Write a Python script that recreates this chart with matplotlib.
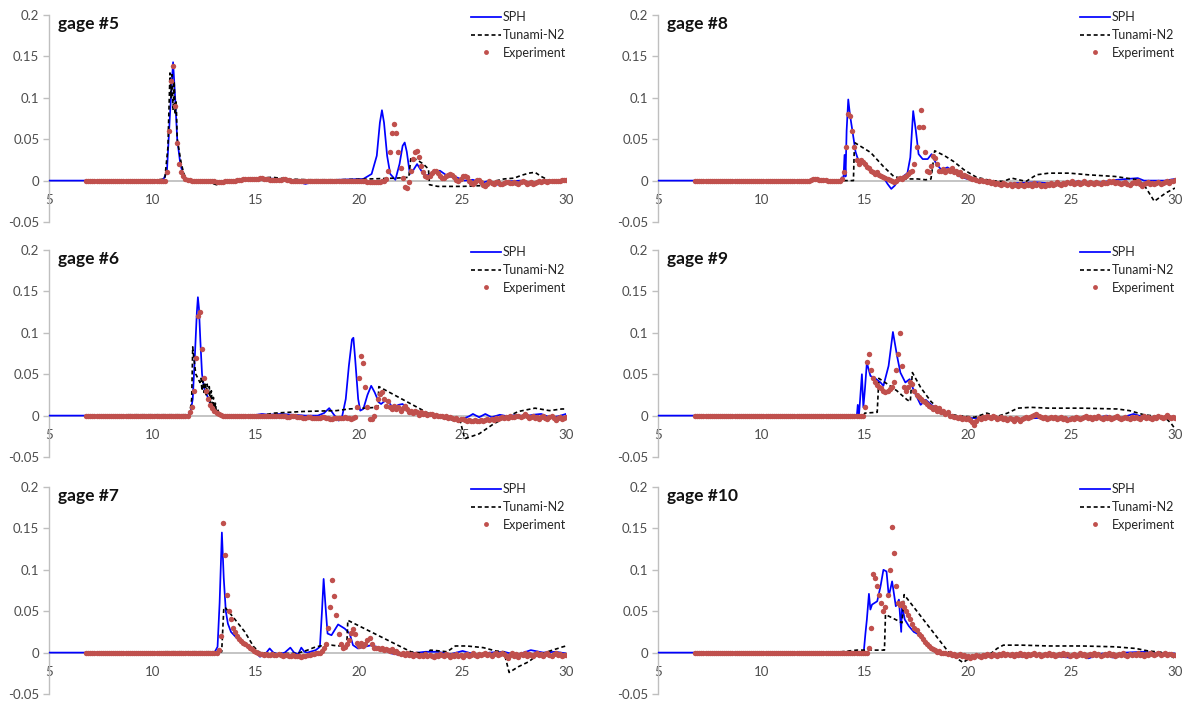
import numpy as np
import matplotlib
matplotlib.use("Agg")
import matplotlib.pyplot as plt

plt.rcParams['font.family'] = ['Lato', 'DejaVu Sans']

# ---------------- data ----------------
titles = ['gage #5', 'gage #6', 'gage #7', 'gage #8', 'gage #9', 'gage #10']
series_names = ['SPH', 'Tunami-N2', 'Experiment']
x_ticks = [5, 10, 15, 20, 25, 30]
y_ticks = [-0.05, 0, 0.05, 0.1, 0.15, 0.2]
y_tick_labels = ['-0.05', '0', '0.05', '0.1', '0.15', '0.2']

# experiment sampled every 0.1 s from 6.8 s to 30.0 s
exp_t = np.round(np.arange(68, 301) / 10.0, 1)

# ---- gage 5 ----
sph5 = [(5, 0), (10.5, 0), (10.7, 0.01), (10.85, 0.08), (11.0, 0.143), (11.1, 0.1), (11.2, 0.05),
        (11.35, 0.02), (11.5, 0.006), (11.7, 0), (13.2, -0.003), (14.0, 0), (15.3, 0.003), (16.0, 0.002),
        (16.8, 0.0), (17.4, -0.004), (18, 0), (19, 0.001), (20.2, 0.002), (20.6, 0.008), (20.85, 0.03),
        (21.0, 0.07), (21.1, 0.085), (21.2, 0.07), (21.35, 0.03), (21.5, 0.008), (21.75, 0.001),
        (21.95, 0.02), (22.1, 0.042), (22.2, 0.046), (22.3, 0.035), (22.45, 0.008), (22.6, 0.012),
        (22.8, 0.02), (23.0, 0.012), (23.2, 0.006), (23.5, 0.008), (23.9, 0.012), (24.3, 0.005),
        (24.7, 0.004), (25.1, 0.0), (25.5, 0.001), (25.9, -0.003), (26.3, 0.0), (26.7, -0.005),
        (27.2, -0.001), (27.8, 0.0), (28.4, -0.003), (29.0, 0.0), (29.5, -0.002), (30, 0.0)]
tun5 = [(10.0, 0), (10.6, 0.002), (10.75, 0.04), (10.85, 0.13), (10.9, 0.1), (10.95, 0.128), (11.0, 0.085),
        (11.05, 0.12), (11.1, 0.08), (11.15, 0.095), (11.2, 0.05), (11.3, 0.035), (11.4, 0.02),
        (11.55, 0.006), (11.8, 0.0), (12.6, -0.001), (13.1, -0.005), (13.4, -0.002), (14.2, 0.001),
        (15.2, 0.003), (15.8, 0.004), (16.5, 0.002), (17.5, 0.001), (19, 0.001), (20.5, 0.002),
        (21.8, 0.003), (22.4, 0.004), (22.5, 0.028), (22.8, 0.025), (23.1, 0.02), (23.35, 0.014),
        (23.4, -0.005), (23.8, -0.007), (25, -0.007), (26.0, -0.006), (26.5, -0.001), (27.0, 0.002),
        (27.5, 0.003), (27.8, 0.006), (28.2, 0.009), (28.5, 0.01), (28.8, 0.005), (29.2, 0.0), (30, 0.0)]
exp5 = [0.0] * 39 + [
    0.01, 0.06, 0.12,
    0.138, 0.09, 0.045, 0.02, 0.01, 0.005, 0.002, 0.001, 0.001, 0.0,
    0.0, 0.0, 0.0, 0.0, 0.0, 0.0, 0.0, 0.0, 0.0, -0.001,
    -0.001, -0.002, -0.002, -0.002, -0.002, -0.001, -0.001, 0.0, 0.0, 0.0,
    0.0, 0.001, 0.001, 0.001, 0.002, 0.002, 0.002, 0.002, 0.002, 0.002,
    0.002, 0.002, 0.003, 0.003, 0.002, 0.002, 0.002, 0.001, 0.001, 0.001,
    0.001, 0.001, 0.001, 0.002, 0.002, 0.001, 0.001, 0.0, 0.0, 0.0,
    0.0, 0.0, -0.001, -0.001, -0.001, 0.0, 0.0, 0.0, -0.001, -0.001,
    -0.001, -0.001, 0.0, 0.0, -0.001, -0.001, -0.001, -0.001, -0.001, -0.001,
    -0.001, -0.001, -0.001, -0.001, -0.001, -0.001, -0.001, -0.001, -0.001, -0.001,
    -0.001, -0.001, -0.001, -0.001, -0.002, -0.002, -0.002, -0.002, -0.002, -0.002,
    -0.002, -0.001, 0.0, 0.002, 0.012, 0.035, 0.058, 0.068, 0.058, 0.035,
    0.015, 0.003, -0.008, -0.009, -0.002, 0.012, 0.026, 0.034, 0.036, 0.028,
    0.018, 0.01, 0.005, 0.004, 0.006, 0.009, 0.011, 0.011, 0.009, 0.006,
    0.003, 0.003, 0.005, 0.007, 0.008, 0.007, 0.004, 0.001, 0.0, 0.002,
    0.005, 0.006, 0.004, 0.0, -0.003, -0.004, -0.002, 0.001, 0.001, -0.002,
    -0.005, -0.006, -0.004, -0.001, -0.003, -0.004, -0.002, -0.002, -0.004, -0.004,
    -0.003, -0.002, -0.002, -0.003, -0.003, -0.002, -0.003, -0.004, -0.002, -0.001,
    -0.002, -0.004, -0.003, -0.002, -0.004, -0.003, -0.002, -0.001, -0.002, -0.001,
    -0.001, -0.002, -0.001, -0.001, 0.0, -0.001, 0.0, 0.0, 0.001, 0.001,
    0.001]

# ---- gage 6 ----
sph6 = [(5, 0), (11.7, 0), (11.85, 0.005), (11.95, 0.02), (12.05, 0.07), (12.15, 0.125), (12.2, 0.143),
        (12.25, 0.13), (12.32, 0.09), (12.4, 0.05), (12.5, 0.033), (12.6, 0.028), (12.7, 0.02),
        (12.85, 0.012), (13.0, 0.007), (13.2, 0.003), (13.5, 0.0), (14, -0.001), (14.8, 0.0),
        (15.3, 0.002), (15.6, 0.001), (16.2, 0.002), (16.8, 0.001), (17.4, 0.0), (18.0, 0.0),
        (18.3, 0.003), (18.55, 0.009), (18.75, 0.002), (19.0, -0.006), (19.15, -0.004), (19.35, 0.02),
        (19.5, 0.06), (19.65, 0.092), (19.72, 0.094), (19.8, 0.07), (19.95, 0.02), (20.05, 0.006),
        (20.2, 0.008), (20.4, 0.025), (20.58, 0.036), (20.75, 0.028), (20.95, 0.016), (21.06, 0.014),
        (21.2, 0.017), (21.38, 0.018), (21.55, 0.012), (21.7, 0.01), (21.9, 0.013), (22.1, 0.014),
        (22.3, 0.008), (22.5, 0.004), (22.8, 0.003), (23.1, 0.002), (23.6, 0.0), (24.0, -0.002),
        (24.5, -0.005), (25.0, -0.004), (25.3, -0.001), (25.5, 0.002), (25.8, -0.002), (26.1, 0.002),
        (26.4, -0.002), (26.8, 0.001), (27.2, -0.001), (27.6, 0.001), (28.0, -0.001), (28.4, 0.001),
        (28.8, 0.002), (29.2, -0.002), (29.6, -0.001), (30, 0.002)]
tun6 = [(8.8, 0.001), (11.8, 0.001), (11.9, 0.02), (11.95, 0.083), (12.0, 0.07), (12.1, 0.05),
        (12.2, 0.045), (12.3, 0.04), (12.35, 0.045), (12.4, 0.03), (12.45, 0.043), (12.5, 0.028),
        (12.55, 0.04), (12.6, 0.025), (12.65, 0.038), (12.7, 0.02), (12.75, 0.035), (12.8, 0.015),
        (12.85, 0.03), (12.9, 0.01), (12.95, 0.022), (13.0, 0.005), (13.05, 0.015), (13.1, 0.002),
        (13.15, 0.008), (13.25, 0.0), (13.5, -0.003), (13.8, -0.003), (14.2, 0.0), (15.4, 0.001),
        (15.9, 0.003), (17.3, 0.005), (18.9, 0.006), (19.5, 0.008), (20.9, 0.01), (20.95, 0.035),
        (23.55, 0.0), (24.9, -0.008), (25.1, -0.028), (25.8, -0.022), (26.5, -0.01), (27.1, -0.002),
        (27.7, 0.005), (28.5, 0.009), (29.2, 0.006), (29.8, 0.008), (30, 0.008)]
exp6 = [0.0] * 50 + [
    0.004, 0.01,
    0.03, 0.07, 0.12, 0.125, 0.08, 0.045, 0.03, 0.02, 0.013, 0.009,
    0.005, 0.003, 0.002, 0.001, 0.0, 0.0, 0.0, 0.0, 0.0, 0.0,
    0.0, 0.0, -0.001, -0.001, -0.001, -0.001, -0.001, -0.001, -0.001, -0.001,
    -0.001, -0.001, 0.0, 0.0, 0.0, 0.0, -0.001, -0.001, -0.001, -0.001,
    -0.001, -0.001, -0.001, -0.001, -0.001, -0.002, -0.002, -0.001, -0.001, -0.001,
    -0.002, -0.002, -0.002, -0.003, -0.003, -0.002, -0.002, -0.003, -0.003, -0.003,
    -0.003, -0.003, -0.002, -0.002, -0.003, -0.003, -0.004, -0.004, -0.003, -0.003,
    -0.003, -0.003, -0.003, -0.002, -0.003, -0.003, -0.004, -0.003, -0.002, 0.01,
    0.045, 0.072, 0.063, 0.035, 0.01, -0.004, -0.004, 0.0, 0.01, 0.02,
    0.026, 0.028, 0.02, 0.012, 0.018, 0.01, 0.008, 0.012, 0.008, 0.01,
    0.006, 0.009, 0.012, 0.008, 0.004, 0.005, 0.003, 0.006, 0.004, 0.001,
    0.004, 0.002, 0.003, 0.001, 0.002, 0.002, 0.0, 0.001, 0.0, -0.001,
    0.0, -0.002, -0.001, -0.003, -0.002, -0.003, -0.004, -0.003, -0.005, -0.004,
    -0.004, -0.005, -0.006, -0.005, -0.006, -0.006, -0.005, -0.007, -0.006, -0.005,
    -0.006, -0.005, -0.004, -0.005, -0.004, -0.005, -0.003, -0.004, -0.003, -0.002,
    -0.003, -0.002, -0.003, -0.001, -0.002, -0.002, -0.001, 0.0, -0.002, 0.0,
    0.002, -0.001, -0.003, -0.002, -0.001, -0.003, -0.002, -0.004, -0.002, -0.001,
    -0.003, -0.004, -0.002, -0.001, -0.003, -0.005, -0.003, -0.002, -0.004, -0.003,
    -0.002]

# ---- gage 7 ----
sph7 = [(5, 0), (13.0, 0), (13.15, 0.007), (13.25, 0.06), (13.36, 0.145), (13.45, 0.09), (13.55, 0.05),
        (13.65, 0.035), (13.8, 0.025), (14.1, 0.017), (14.4, 0.01), (14.65, 0.006), (15.0, 0.0),
        (15.2, -0.005), (15.45, -0.002), (15.67, 0.005), (15.85, 0.0), (16.1, -0.002), (16.4, 0.0),
        (16.67, 0.006), (16.85, 0.0), (17.05, -0.002), (17.2, 0.006), (17.35, 0.001), (17.5, 0.0),
        (17.9, 0.003), (18.1, 0.007), (18.2, 0.05), (18.28, 0.089), (18.36, 0.06), (18.47, 0.023),
        (18.66, 0.021), (18.98, 0.034), (19.3, 0.029), (19.54, 0.023), (19.7, 0.009), (19.94, 0.005),
        (20.26, 0.007), (20.6, 0.009), (21.07, 0.005), (21.55, -0.001), (22.0, -0.003), (22.5, -0.001),
        (23.2, 0.001), (23.8, 0.001), (24.4, -0.002), (25.0, 0.002), (25.7, -0.003), (26.3, 0.0),
        (27.0, 0.001), (27.6, -0.003), (28.3, 0.003), (28.9, 0.0), (29.5, 0.001), (30, -0.001)]
tun7 = [(10.6, 0.001), (13.35, 0.001), (13.45, 0.052), (13.5, 0.055), (13.9, 0.043), (14.47, 0.025),
        (14.9, 0.007), (15.2, 0.0), (16.0, -0.001), (17.0, -0.001), (17.5, 0.003), (17.8, 0.006),
        (18.1, 0.008), (18.66, 0.009), (18.98, 0.008), (19.4, 0.009), (19.45, 0.039), (22.5, 0.001),
        (23.13, -0.001), (23.45, 0.003), (23.9, 0.002), (24.25, 0.001), (24.65, 0.008), (25.2, 0.008),
        (26.0, 0.006), (26.6, 0.002), (27.0, 0.001), (27.25, -0.024), (27.7, -0.017), (28.2, -0.011),
        (28.5, -0.005), (29.1, 0.001), (29.85, 0.007), (30, 0.008)]
exp7 = [0.0] * 64 + [
    0.003, 0.02, 0.157, 0.118, 0.07, 0.05, 0.04, 0.03,
    0.025, 0.02, 0.017, 0.014, 0.012, 0.01, 0.008, 0.006, 0.004, 0.002,
    0.001, -0.001, -0.002, -0.002, -0.003, -0.002, -0.003, -0.003, -0.002, -0.003,
    -0.003, -0.002, -0.003, -0.004, -0.003, -0.003, -0.004, -0.004, -0.003, -0.004,
    -0.004, -0.004, -0.005, -0.004, -0.004, -0.003, -0.003, -0.002, -0.002, -0.001,
    -0.001, 0.0, 0.002, 0.005, 0.01, 0.03, 0.055, 0.088, 0.068, 0.045,
    0.022, 0.01, 0.006, 0.007, 0.01, 0.015, 0.024, 0.029, 0.022, 0.012,
    0.008, 0.012, 0.008, 0.01, 0.015, 0.018, 0.01, 0.006, 0.005, 0.006,
    0.004, 0.005, 0.003, 0.004, 0.003, 0.002, 0.004, 0.001, 0.002, 0.0,
    -0.002, 0.0, -0.003, -0.001, -0.003, -0.002, -0.004, -0.002, -0.003, -0.004,
    -0.003, -0.004, -0.002, -0.004, -0.003, -0.004, -0.005, -0.003, -0.004, -0.002,
    -0.003, -0.004, -0.002, -0.003, -0.005, -0.003, -0.004, -0.002, -0.004, -0.003,
    -0.005, -0.003, -0.002, -0.004, -0.003, -0.001, -0.003, -0.004, -0.002, -0.003,
    -0.002, 0.0, -0.003, -0.002, -0.004, -0.002, -0.001, -0.003, -0.002, -0.001,
    -0.002, -0.004, -0.006, -0.003, -0.001, -0.004, -0.002, -0.005, -0.002, -0.003,
    -0.001, -0.004, -0.002, -0.003, -0.004, -0.002, -0.001, -0.003, -0.002, -0.004,
    -0.002, -0.001, -0.003, -0.004, -0.002, -0.001, -0.003, -0.002, -0.004, -0.003,
    -0.003]

# ---- gage 8 ----
sph8 = [(5, 0), (13.8, 0), (13.9, 0.004), (13.97, 0.003), (14.02, 0.031), (14.07, 0.005), (14.12, 0.06),
        (14.2, 0.098), (14.28, 0.08), (14.45, 0.052), (14.55, 0.035), (14.64, 0.028), (14.8, 0.019),
        (14.95, 0.023), (15.1, 0.018), (15.28, 0.013), (15.6, 0.007), (15.9, 0.004), (16.1, -0.004),
        (16.28, -0.01), (16.45, -0.006), (16.6, 0.0), (16.8, 0.004), (17.06, 0.009), (17.2, 0.028),
        (17.34, 0.084), (17.47, 0.06), (17.6, 0.032), (17.8, 0.026), (18.04, 0.026), (18.23, 0.032),
        (18.44, 0.021), (18.7, 0.013), (19.0, 0.016), (19.3, 0.011), (19.6, 0.005), (19.95, 0.002),
        (20.4, 0.0), (21.2, -0.004), (21.7, -0.005), (22.3, -0.003), (23.3, -0.002), (24.3, -0.004),
        (25.3, -0.001), (26.2, -0.003), (27.2, 0.001), (28.2, 0.003), (28.5, 0.0), (29.5, 0.0),
        (30, 0.002)]
tun8 = [(12.0, 0.0), (14.45, 0.0), (14.5, 0.046), (15.28, 0.034), (15.9, 0.017), (16.4, 0.005),
        (16.9, 0.002), (17.55, 0.002), (17.95, 0.001), (18.2, 0.002), (18.38, 0.036), (18.86, 0.03),
        (19.3, 0.023), (19.8, 0.013), (20.4, 0.004), (21.1, 0.0), (21.7, -0.001), (22.1, 0.003),
        (22.8, -0.001), (23.3, 0.007), (23.9, 0.009), (24.9, 0.009), (25.8, 0.007), (27.1, 0.005),
        (28.2, 0.001), (28.5, -0.005), (29.0, -0.025), (29.55, -0.015), (30, -0.009)]
exp8 = [0.0] * 56 + [
    0.001, 0.002, 0.002, 0.002, 0.001, 0.001,
    0.001, 0.001, 0.0, 0.0, 0.0, 0.0, 0.0, 0.0, 0.0, 0.002,
    0.01, 0.04, 0.08, 0.078, 0.06, 0.04, 0.025, 0.02, 0.025, 0.022,
    0.02, 0.017, 0.015, 0.012, 0.01, 0.008, 0.01, 0.007, 0.006, 0.004,
    0.003, 0.002, 0.001, -0.001, -0.002, -0.001, 0.002, 0.003, 0.002, 0.004,
    0.006, 0.008, 0.01, 0.012, 0.02, 0.04, 0.065, 0.085, 0.065, 0.035,
    0.012, 0.01, 0.018, 0.03, 0.027, 0.02, 0.012, 0.012, 0.014, 0.01,
    0.013, 0.011, 0.015, 0.01, 0.011, 0.008, 0.01, 0.006, 0.007, 0.005,
    0.004, 0.003, 0.002, 0.002, 0.001, 0.0, 0.001, -0.001, 0.0, -0.002,
    -0.001, -0.003, -0.002, -0.004, -0.003, -0.004, -0.005, -0.003, -0.004, -0.005,
    -0.004, -0.006, -0.004, -0.005, -0.006, -0.004, -0.005, -0.006, -0.004, -0.005,
    -0.004, -0.006, -0.003, -0.005, -0.004, -0.006, -0.005, -0.007, -0.004, -0.005,
    -0.003, -0.005, -0.004, -0.002, -0.004, -0.005, -0.003, -0.004, -0.002, -0.003,
    -0.001, -0.004, -0.003, -0.002, -0.004, -0.003, -0.001, -0.003, -0.004, -0.002,
    -0.003, -0.004, -0.002, -0.003, -0.004, -0.002, -0.003, -0.003, -0.001, -0.002,
    -0.001, -0.003, -0.002, -0.003, -0.004, -0.003, -0.002, -0.004, -0.005, -0.003,
    -0.002, -0.003, -0.001, -0.004, -0.006, -0.004, -0.003, -0.002, -0.004, -0.003,
    -0.004, -0.003, -0.002, -0.004, -0.003, -0.002, -0.001, -0.003, -0.001, 0.0,
    0.001]

# ---- gage 9 ----
sph9 = [(5, 0), (14.55, 0), (14.62, 0.001), (14.66, 0.013), (14.72, 0.001), (14.86, 0.05), (14.93, 0.01),
        (15.0, 0.03), (15.1, 0.064), (15.27, 0.048), (15.5, 0.045), (15.76, 0.04), (15.9, 0.036),
        (16.15, 0.06), (16.36, 0.101), (16.56, 0.072), (16.72, 0.052), (16.96, 0.04), (17.17, 0.044),
        (17.37, 0.03), (17.7, 0.013), (17.95, 0.019), (18.27, 0.012), (18.6, 0.007), (19.0, 0.003),
        (19.5, -0.003), (20.1, -0.003), (21.1, -0.003), (22.4, -0.004), (23.3, -0.003), (24.3, -0.004),
        (25.3, -0.003), (26.2, -0.003), (26.7, 0.0), (27.2, -0.004), (28.0, 0.002), (28.5, -0.002),
        (29.5, -0.002), (30, -0.001)]
tun9 = [(12.0, 0.0), (14.95, 0.0), (15.0, 0.003), (15.6, 0.004), (15.68, 0.045), (16.1, 0.038),
        (16.55, 0.03), (17.05, 0.019), (17.2, 0.017), (17.3, 0.052), (17.7, 0.034), (18.2, 0.017),
        (18.8, 0.003), (19.5, 0.0), (20.3, -0.002), (20.9, 0.003), (21.4, -0.001), (21.9, 0.003),
        (22.4, 0.009), (23.0, 0.01), (23.9, 0.009), (25.5, 0.009), (27.2, 0.008), (27.8, 0.006),
        (28.5, 0.001), (29.5, -0.002), (29.8, -0.009), (30, -0.016)]
exp9 = [0.0] * 82 + [
    0.01, 0.065, 0.075, 0.055, 0.045, 0.04, 0.037, 0.035, 0.033, 0.03,
    0.028, 0.03, 0.032, 0.035, 0.04, 0.055, 0.075, 0.1, 0.06, 0.035,
    0.03, 0.035, 0.04, 0.038, 0.03, 0.025, 0.022, 0.02, 0.018, 0.016,
    0.014, 0.012, 0.01, 0.008, 0.01, 0.006, 0.009, 0.004, 0.006, 0.002,
    0.004, 0.0, -0.001, -0.002, -0.002, -0.003, -0.002, -0.004, -0.003, -0.004,
    -0.003, -0.005, -0.008, -0.011, -0.006, -0.003, -0.004, -0.002, -0.003, -0.001,
    -0.002, -0.003, -0.001, -0.002, -0.004, -0.003, -0.002, -0.004, -0.003, -0.005,
    -0.003, -0.004, -0.006, -0.003, -0.004, -0.007, -0.004, -0.003, -0.002, -0.003,
    -0.002, -0.001, 0.001, 0.002, 0.0, -0.002, -0.003, -0.002, -0.004, -0.003,
    -0.002, -0.003, -0.002, -0.004, -0.003, -0.002, -0.004, -0.003, -0.005, -0.004,
    -0.003, -0.004, -0.002, -0.003, -0.004, -0.003, -0.002, -0.001, -0.003, -0.002,
    -0.004, -0.002, -0.003, -0.001, -0.003, -0.004, -0.002, -0.003, -0.002, -0.004,
    -0.003, -0.002, -0.001, -0.003, -0.004, -0.003, -0.002, -0.003, -0.004, -0.002,
    -0.003, -0.002, -0.003, -0.004, -0.002, -0.001, -0.003, -0.002, -0.003, -0.004,
    -0.002, -0.003, -0.001, -0.002, -0.003, -0.002, 0.001, -0.002, -0.003, -0.002,
    -0.003]

# ---- gage 10 ----
sph10 = [(5, 0), (14.8, 0), (14.95, 0.001), (15.03, 0.023), (15.1, 0.04), (15.2, 0.071), (15.27, 0.052),
         (15.35, 0.058), (15.6, 0.062), (15.76, 0.08), (15.9, 0.1), (16.05, 0.098), (16.16, 0.068),
         (16.32, 0.086), (16.5, 0.056), (16.65, 0.064), (16.76, 0.025), (16.8, 0.058), (16.93, 0.04),
         (17.13, 0.032), (17.37, 0.025), (17.6, 0.022), (17.86, 0.013), (18.18, 0.005), (18.5, -0.001),
         (19.0, -0.003), (19.6, -0.004), (20.4, -0.005), (21.1, -0.003), (21.7, -0.003), (22.6, -0.005),
         (23.3, -0.003), (24.1, -0.004), (24.9, -0.006), (25.4, -0.001), (25.8, -0.007), (26.5, -0.001),
         (27.0, -0.006), (27.6, 0.0), (28.5, 0.001), (29.2, -0.001), (30, -0.001)]
tun10 = [(13.5, 0.0), (14.6, 0.003), (15.95, 0.003), (16.0, 0.046), (16.8, 0.036), (16.9, 0.07),
         (19.1, -0.001), (19.75, -0.012), (20.3, -0.003), (21.1, -0.001), (21.4, 0.005), (21.7, 0.009),
         (22.6, 0.009), (23.9, 0.008), (25.5, 0.008), (27.1, 0.007), (28.1, 0.005), (28.7, 0.002),
         (29.5, 0.0), (30, -0.007)]
exp10 = [0.0] * 84 + [
    0.005, 0.03, 0.095, 0.09, 0.08, 0.07, 0.06, 0.05,
    0.055, 0.07, 0.1, 0.152, 0.12, 0.08, 0.06, 0.058, 0.06, 0.055,
    0.05, 0.045, 0.04, 0.035, 0.03, 0.027, 0.022, 0.02, 0.016, 0.013,
    0.01, 0.008, 0.006, 0.004, 0.003, 0.001, 0.002, 0.0, -0.001, 0.0,
    -0.002, -0.001, -0.003, -0.002, -0.004, -0.003, -0.002, -0.004, -0.003, -0.005,
    -0.004, -0.006, -0.004, -0.005, -0.003, -0.004, -0.005, -0.003, -0.004, -0.002,
    -0.003, -0.004, -0.002, -0.003, -0.004, -0.002, -0.003, -0.001, -0.003, -0.002,
    -0.003, -0.002, -0.004, -0.002, -0.003, -0.001, -0.003, -0.002, -0.004, -0.002,
    -0.003, -0.002, -0.001, -0.003, -0.002, -0.004, -0.003, -0.002, -0.003, -0.001,
    -0.003, -0.002, -0.004, -0.003, -0.002, -0.003, -0.001, -0.003, -0.002, -0.004,
    -0.003, -0.002, -0.004, -0.003, -0.001, -0.003, -0.002, -0.004, -0.003, -0.002,
    -0.003, -0.001, -0.003, -0.002, -0.004, -0.003, -0.002, -0.003, -0.001, -0.003,
    -0.002, -0.004, -0.003, -0.002, -0.003, -0.001, -0.003, -0.004, -0.002, -0.003,
    -0.002, -0.003, -0.001, -0.003, -0.002, -0.004, -0.002, -0.003, -0.001, -0.002,
    -0.003, -0.002, -0.001, -0.003, -0.002, -0.001, -0.003, -0.002, -0.002, -0.003,
    -0.003]

# ---------------- figure ----------------
W, H = 1182, 701
fig = plt.figure(figsize=(W / 100, H / 100), dpi=100)

col_x = [49, 658]
axis_w = 517
row_top = [15, 250, 487]
axis_h = 207

panels = [
    (titles[0], sph5, tun5, exp5, 0, 0),
    (titles[1], sph6, tun6, exp6, 0, 1),
    (titles[2], sph7, tun7, exp7, 0, 2),
    (titles[3], sph8, tun8, exp8, 1, 0),
    (titles[4], sph9, tun9, exp9, 1, 1),
    (titles[5], sph10, tun10, exp10, 1, 2),
]

grey = '#BFBFBF'
txt = '#4D4D4D'

for title, sph, tun, exp, c, r in panels:
    left = col_x[c] / W
    bottom = 1 - (row_top[r] + axis_h) / H
    ax = fig.add_axes([left, bottom, axis_w / W, axis_h / H])
    st, sy = zip(*sph)
    tt, ty = zip(*tun)
    ax.plot(st, sy, color='#0000FF', lw=1.25, label=series_names[0], zorder=3)
    ax.plot(tt, ty, color='black', lw=1.2, ls=(0, (2.4, 1.7)), label=series_names[1], zorder=3)
    n = min(len(exp), len(exp_t))
    ax.plot(exp_t[:n], exp[:n], ls='none', marker='o', ms=3.9, color='#C0504D', mec='none',
            label=series_names[2], zorder=4)

    ax.set_xlim(5, 30)
    ax.set_ylim(-0.05, 0.2)
    ax.set_xticks(x_ticks)
    ax.set_xticklabels([str(v) for v in x_ticks])
    ax.set_yticks(y_ticks)
    ax.set_yticklabels(y_tick_labels)

    for s in ('top', 'right'):
        ax.spines[s].set_visible(False)
    ax.spines['bottom'].set_position(('data', 0))
    ax.spines['bottom'].set_color(grey)
    ax.spines['bottom'].set_linewidth(1.3)
    ax.spines['left'].set_color(grey)
    ax.spines['left'].set_linewidth(1.0)
    ax.tick_params(axis='x', length=0, pad=10, labelsize=9.5, labelcolor=txt)
    ax.tick_params(axis='y', length=4, width=1.0, direction='out', color=grey, pad=3,
                   labelsize=9.5, labelcolor=txt)
    ax.patch.set_visible(False)

    ax.text(0.018, 0.958, title, transform=ax.transAxes, fontsize=12.5, fontweight='bold',
            va='center', ha='left', color='#111111')

    leg = ax.legend(loc='upper right', bbox_to_anchor=(1.0, 1.018), frameon=False, fontsize=9,
                    handlelength=2.4, handletextpad=0.15, borderpad=0, borderaxespad=0,
                    labelspacing=0.45, numpoints=1, markerscale=0.9)
    for t in leg.get_texts():
        t.set_color('#262626')

fig.savefig('out.png', dpi=100)
